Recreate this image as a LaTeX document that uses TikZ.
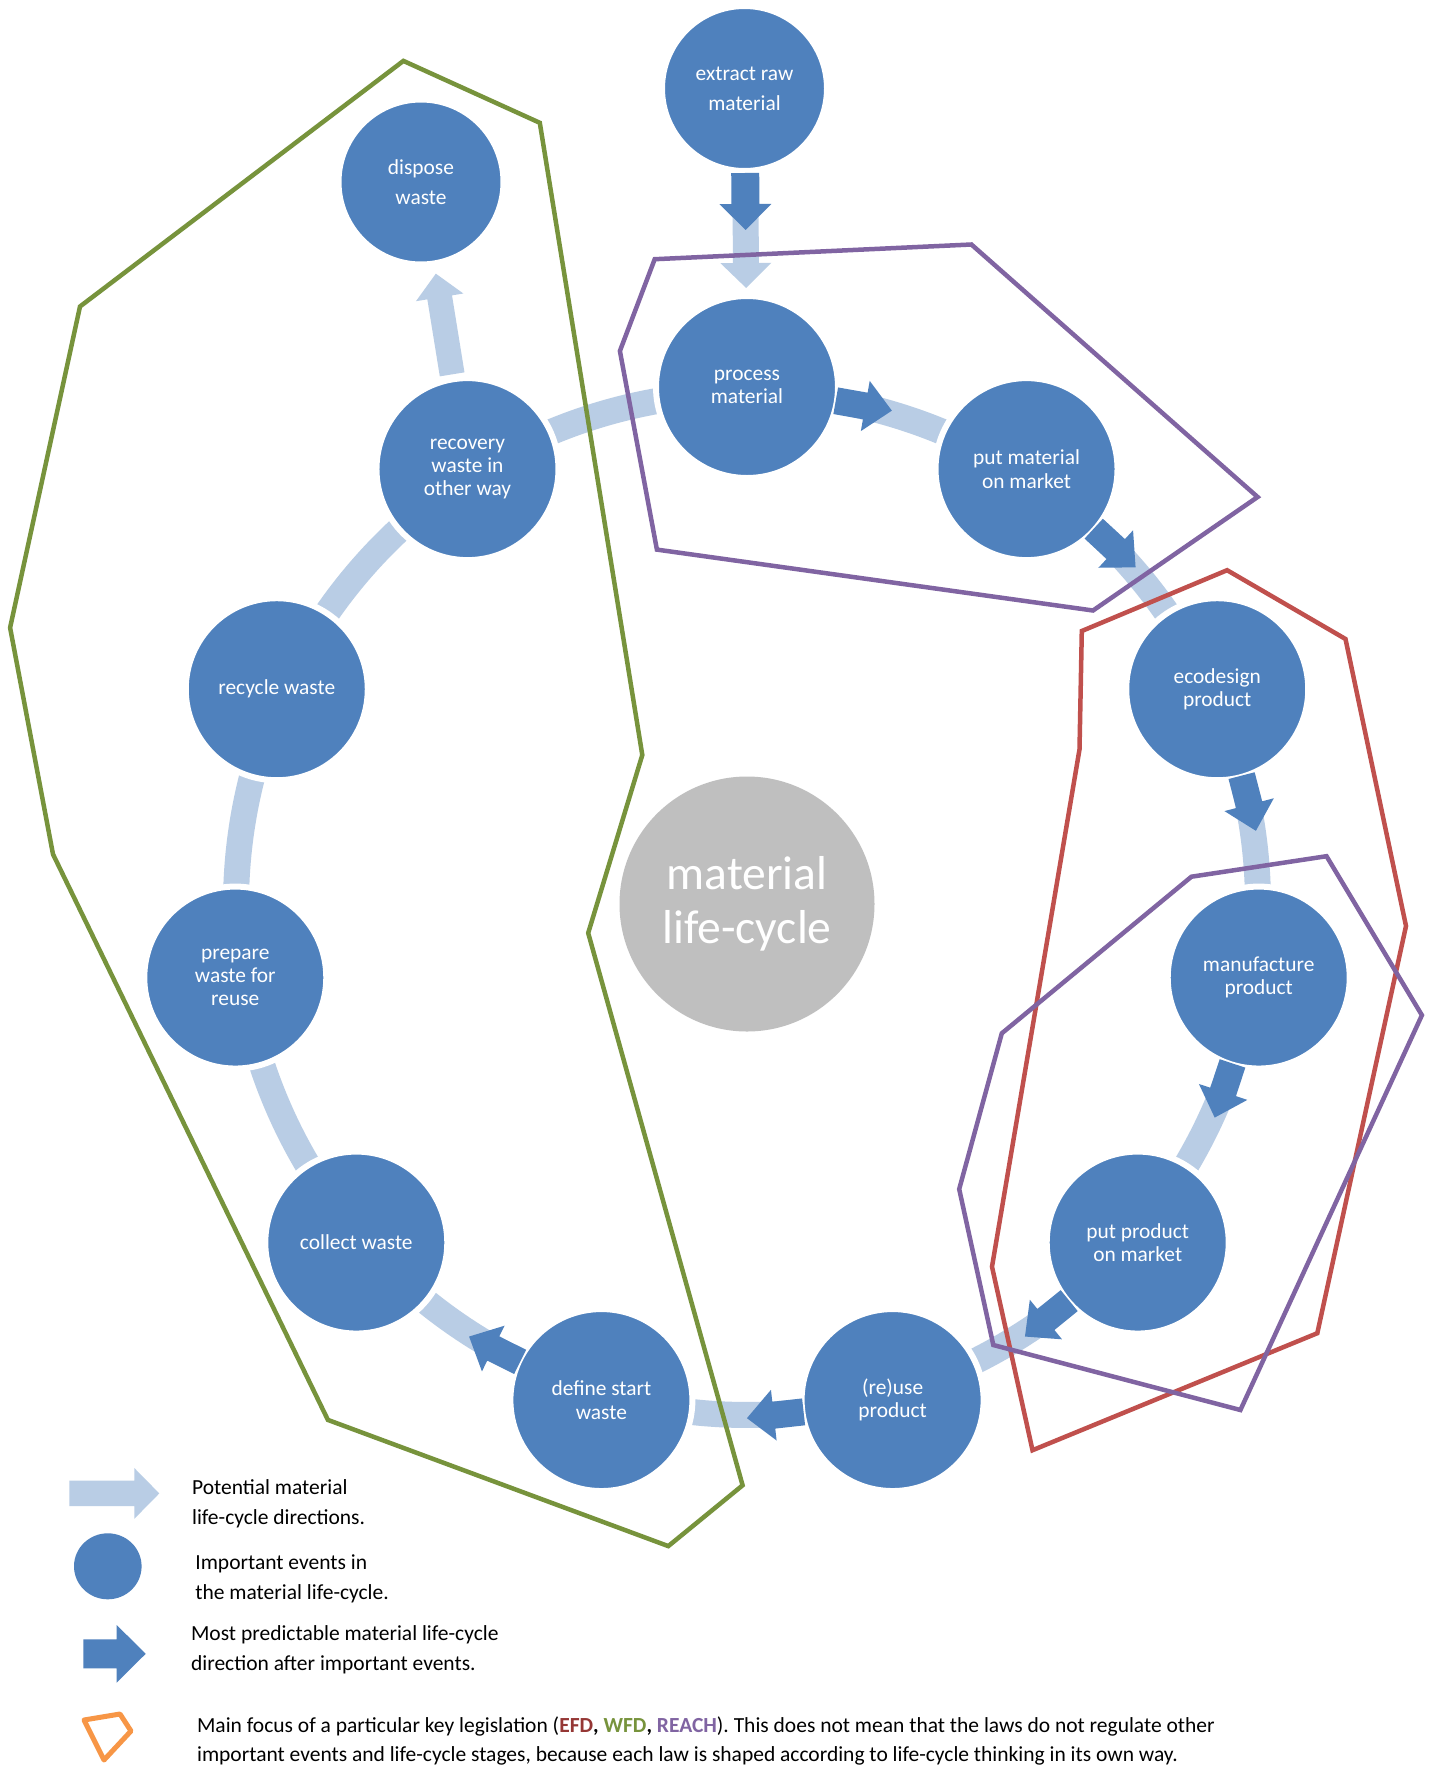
\documentclass[tikz,border=0pt]{standalone}
\usepackage{fontspec}
\setmainfont{Carlito}
\usetikzlibrary{calc}
\pgfdeclarelayer{back}
\pgfsetlayers{back,main}

\definecolor{evtblue}{HTML}{4F81BD}
\definecolor{flowblue}{HTML}{B9CDE5}
\definecolor{hubgray}{HTML}{BFBFBF}
\definecolor{efdred}{HTML}{C0504D}
\definecolor{efdtext}{HTML}{953735}
\definecolor{wfdgreen}{HTML}{77933C}
\definecolor{reachpurple}{HTML}{8064A2}
\definecolor{keyorange}{HTML}{F79646}

\tikzset{
  % life-cycle events
  evt/.style={circle, fill=evtblue, draw=white, line width=3pt, minimum size=91pt,
    inner sep=0pt, text=white, align=center, font=\fontsize{10.7}{11.6}\selectfont},
  evtsmall/.style={evt, minimum size=82.5pt, font=\fontsize{10.7}{15}\selectfont},
  core/.style={circle, fill=hubgray, minimum size=127.5pt, inner sep=0pt, text=white,
    align=center, font=\fontsize{23.8}{27}\selectfont},
  % potential directions: light band along the ring
  flow/.style={draw=flowblue, line width=13pt},
  ringarc/.style={to path={
    let \p1=($(\tikztostart)-(hub)$), \p2=($(\tikztotarget)-(hub)$),
        \n1={atan2(\y1,\x1)}, \n2={atan2(\y2,\x2)},
        \n3={ifthenelse(\n2>\n1,\n2-360,\n2)} in
    ([shift={(\n1:511)}]hub) arc[start angle=\n1, end angle=\n3, radius=511]}},
  % most predictable direction: short block arrow leaving a ring event
  stub/.style={to path={
    let \p1=($(\tikztostart)-(hub)$), \n1={atan2(\y1,\x1)-10} in
    ([shift={(\n1:511)}]hub) ++({\n1}:13.5) -- ++({\n1-90}:30) -- ++({\n1}:12)
    -- ++({\n1-90-atan2(25.5,27)}:{veclen(25.5,27)})
    -- ++({\n1+90+atan2(25.5,27)}:{veclen(25.5,27)})
    -- ++({\n1}:12) -- ++({\n1+90}:30) -- cycle}},
  % straight block arrow: start offset, length, shaft half width, head half width, head length
  blk/.style n args={5}{to path={
    let \p1=($(\tikztotarget)-(\tikztostart)$), \n1={atan2(\y1,\x1)} in
    ($(\tikztostart)+(\n1:#1)$) ++({\n1+90}:#3) -- ++({\n1}:{#2-#5}) -- ++({\n1+90}:{#4-#3})
    -- ++({\n1-atan2(#4,#5)}:{veclen(#4,#5)})
    -- ++({\n1+180+atan2(#4,#5)}:{veclen(#4,#5)})
    -- ++({\n1+90}:{#4-#3}) -- ++({\n1+180}:{#2-#5}) -- cycle}},
  pics/blockarrow/.style n args={4}{code={
    \fill (0,#2) -- ({#1-#4},#2) -- ({#1-#4},#3) -- (#1,0) -- ({#1-#4},-#3)
      -- ({#1-#4},-#2) -- (0,-#2) -- cycle;}},
  lawline/.style={line width=2.25pt, line join=miter},
  legend/.style={anchor=base west, inner sep=0pt, text=black,
    font=\fontsize{10.75}{12}\selectfont},
}

\begin{document}
\begin{tikzpicture}[x=0.5pt, y=0.5pt]
\useasboundingbox (0,0) rectangle (1430,-1767);

\coordinate (hub) at (747,-904);

% events
\node[core] (core) at (hub) {material\\life-cycle};
\node[evt] (proc)    at ([shift={(90:517)}]hub)     {process\\material};
\node[evt] (pmm)     at ([shift={(57.27:517)}]hub)  {put material\\on market};
\node[evt] (eco)     at ([shift={(24.55:517)}]hub)  {ecodesign\\product};
\node[evt] (manu)    at ([shift={(-8.18:517)}]hub)  {manufacture\\product};
\node[evt] (ppm)     at ([shift={(-40.91:517)}]hub) {put product\\on market};
\node[evt] (reuse)   at ([shift={(-73.64:517)}]hub) {(re)use\\product};
\node[evt] (defn)    at ([shift={(-106.36:517)}]hub) {define start\\waste};
\node[evt] (collect) at ([shift={(-139.09:517)}]hub) {collect waste};
\node[evt] (prep)    at ([shift={(-171.82:517)}]hub) {prepare\\waste for\\reuse};
\node[evt] (recycle) at ([shift={(155.45:517)}]hub)  {recycle waste};
\node[evt] (recov)   at ([shift={(122.73:517)}]hub)  {recovery\\waste in\\other way};
\node[evtsmall] (extract) at (744.5,-88.5) {extract raw\\material};
\node[evtsmall] (dispose) at (421,-182)    {dispose\\waste};

% potential directions, beneath the events
\begin{pgfonlayer}{back}
  \fill[white] (0,0) rectangle (1430,-1767);
  \foreach \a/\b in {proc/pmm, pmm/eco, eco/manu, manu/ppm, ppm/reuse, reuse/defn,
                     defn/collect, collect/prep, prep/recycle, recycle/recov, recov/proc}
    \draw[flow] (\a) to[ringarc] (\b);
  \fill[flowblue] (extract) to[blk={84.5}{115}{13}{25.5}{25}] (proc);
  \fill[flowblue] (recov) to[blk={96}{102}{12.5}{24}{24}] (dispose);
\end{pgfonlayer}

% most predictable directions
\foreach \a/\b in {proc/pmm, pmm/eco, eco/manu, manu/ppm, ppm/reuse, reuse/defn, defn/collect}
  \fill[evtblue] (\a) to[stub] (\b);
\fill[evtblue] (extract) to[blk={84.5}{57}{14}{26}{26}] (proc);

% focus of the key legislation
\draw[lawline, wfdgreen] (403.4,-60.9) -- (539.8,-122.8) -- (642.3,-755) -- (588.2,-933)
  -- (742.6,-1485.3) -- (668.3,-1546.1) -- (327.9,-1419.9) -- (53,-854.2)
  -- (10.1,-627.7) -- (80,-306.5) -- cycle;
\draw[lawline, reachpurple] (654.7,-259.2) -- (971.4,-244.5) -- (1257.6,-497)
  -- (1093,-610.5) -- (656.9,-549.6) -- (619.9,-351) -- cycle;
\draw[lawline, efdred] (1227.1,-570.2) -- (1345.5,-639) -- (1406,-926) -- (1317.3,-1333.2)
  -- (1032.5,-1450.2) -- (992,-1266.7) -- (1079.5,-749.4) -- (1081.8,-631) -- cycle;
\draw[lawline, reachpurple] (1191.4,-876.7) -- (1326.5,-856.2) -- (1421.9,-1015.2)
  -- (1240.4,-1410) -- (993.3,-1345) -- (959.2,-1189.1) -- (1001.8,-1033.3) -- cycle;

% key
\pic[flowblue] at (69.3,-1493.4) {blockarrow={90}{12.7}{25.4}{25}};
\fill[evtblue] (107.8,-1566.3) ellipse[x radius=33.8, y radius=33];
\pic[evtblue] at (83.3,-1653.8) {blockarrow={62.4}{14.5}{28.8}{29}};
\draw[keyorange, line width=2.5pt, line join=round]
  (84,-1720) -- (120,-1714) -- (131,-1731) -- (104,-1760) -- cycle;

\node[legend] (k1a) at (191.7,-1494) {Potential material};
\node[legend] (k1b) at (191.7,-1524) {life-cycle directions.};
\node[legend] (k2a) at (195,-1569.3) {Important events in};
\node[legend] (k2b) at (195,-1599.3) {the material life-cycle.};
\node[legend] (k3a) at (190.7,-1640) {Most predictable material life-cycle};
\node[legend] (k3b) at (190.7,-1670) {direction after important events.};
\node[legend] (k4a) at (196.7,-1732.5) {Main focus of a particular key legislation
  (\textbf{\textcolor{efdtext}{EFD}, \textcolor{wfdgreen}{WFD}, \textcolor{reachpurple}{REACH}}).
  This does not mean that the laws do not regulate other};
\node[legend] (k4b) at (196.7,-1761.5) {important events and life-cycle stages, because each
  law is shaped according to life-cycle thinking in its own way.};
\end{tikzpicture}
\end{document}
